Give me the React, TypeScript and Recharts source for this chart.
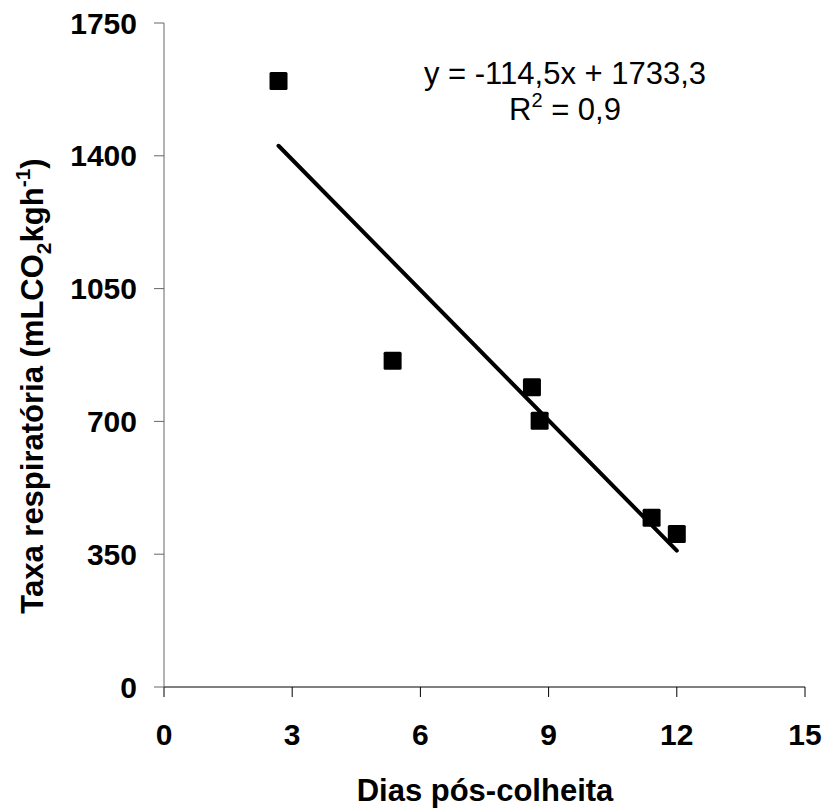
import {
  ScatterChart,
  Scatter,
  XAxis,
  YAxis,
  Label,
  Customized,
} from "recharts";

// Dias pós-colheita vs taxa respiratória
const dias = [2.68, 5.35, 8.61, 8.79, 11.41, 12.0];
const taxa = [1597, 860, 790, 702, 446, 403];

const xTicks = [0, 3, 6, 9, 12, 15];
const yTicks = [0, 350, 700, 1050, 1400, 1750];

// linear trend as printed on the chart
const slope = -114.5;
const intercept = 1733.3;
const trendX = [2.68, 12.0];

const points = dias.map((x, i) => ({ x, y: taxa[i] }));
const trend = trendX.map((x) => ({ x, y: slope * x + intercept }));

const font = "'Liberation Sans', Arial, sans-serif";

const SquareDot = (props: any) => {
  const { cx, cy } = props;
  if (cx == null || cy == null) return <g />;
  return <rect x={cx - 9} y={cy - 9} width={18} height={18} rx={1.5} fill="#000" />;
};

const NoDot = () => <g />;

const Equation = () => (
  <g fontFamily={font} fill="#000" fontSize={31}>
    <text x={565} y={84} textAnchor="middle">
      y = -114,5x + 1733,3
    </text>
    <text x={565} y={120} textAnchor="middle">
      R
      <tspan fontSize={20} dy={-13}>2</tspan>
      <tspan dy={13}> = 0,9</tspan>
    </text>
  </g>
);

const YTitle = () => (
  <text
    transform="translate(43,386) rotate(-90)"
    textAnchor="middle"
    fontFamily={font}
    fontWeight="bold"
    fontSize={31}
    fill="#000"
  >
    Taxa respiratória (mLCO
    <tspan fontSize={21} dy={8}>2</tspan>
    <tspan dy={-8}>kgh</tspan>
    <tspan fontSize={21} dy={-13}>-1</tspan>
    <tspan dy={13}>)</tspan>
  </text>
);

const XTitle = () => (
  <text
    x={485}
    y={801}
    textAnchor="middle"
    fontFamily={font}
    fontWeight="bold"
    fontSize={31}
    fill="#000"
  >
    Dias pós-colheita
  </text>
);

const tickStyle = { fill: "#000", fontSize: 30, fontWeight: "bold", fontFamily: font };

export default function App() {
  return (
    <div style={{ width: 825, height: 808, background: "#fff" }}>
      <style>{`body{margin:0}`}</style>
      <ScatterChart
        width={825}
        height={808}
        margin={{ top: 23, right: 20, bottom: 0, left: 0 }}
      >
        <XAxis
          type="number"
          dataKey="x"
          domain={[0, 15]}
          ticks={xTicks}
          interval={0}
          height={121}
          tickSize={10}
          tickMargin={27}
          stroke="#000"
          tick={tickStyle}
          allowDataOverflow
        >
          <Label content={XTitle} />
        </XAxis>
        <YAxis
          type="number"
          dataKey="y"
          domain={[0, 1750]}
          ticks={yTicks}
          interval={0}
          width={164}
          tickSize={10}
          tickMargin={17}
          stroke="#666"
          tick={tickStyle}
          allowDataOverflow
        >
          <Label content={YTitle} />
        </YAxis>
        <Scatter
          data={trend}
          line={{ stroke: "#000", strokeWidth: 4, strokeLinecap: "round" }}
          shape={NoDot}
          isAnimationActive={false}
        />
        <Scatter data={points} shape={SquareDot} isAnimationActive={false} />
        <Customized component={Equation} />
      </ScatterChart>
    </div>
  );
}
